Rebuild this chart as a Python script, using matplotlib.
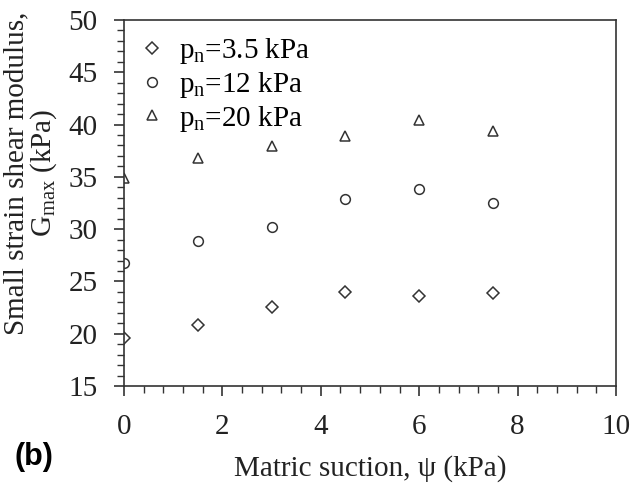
import matplotlib
matplotlib.use("Agg")
import matplotlib.pyplot as plt
from matplotlib.ticker import MultipleLocator

# matric suction (kPa)
suction = [0, 1.5, 3, 4.5, 6, 7.5]
# Gmax (kPa) for each net stress
g_35 = [19.6, 20.8, 22.6, 24.0, 23.65, 23.9]
g_12 = [26.8, 28.9, 30.2, 32.9, 33.85, 32.5]
g_20 = [34.9, 36.8, 37.95, 38.9, 40.4, 39.4]
labels = ["p$_\\mathrm{n}$=3.5 kPa", "p$_\\mathrm{n}$=12 kPa", "p$_\\mathrm{n}$=20 kPa"]

plt.rcParams["font.family"] = ["Liberation Serif", "DejaVu Serif"]
plt.rcParams["mathtext.fontset"] = "custom"
plt.rcParams["mathtext.rm"] = "Liberation Serif"

fs = 21
fig = plt.figure(figsize=(6.33, 4.87), dpi=100)
ax = fig.add_axes([124 / 633, 1 - 386 / 487, (616 - 124) / 633, (386 - 20) / 487])

col = "#333333"
ax.plot(suction, g_35, linestyle="none", marker="D", ms=6, mfc="white", mec=col, mew=1.1, label=labels[0])
ax.plot(suction, g_12, linestyle="none", marker="o", ms=7, mfc="white", mec=col, mew=1.1, label=labels[1])
ax.plot(suction, g_20, linestyle="none", marker="^", ms=7, mfc="white", mec=col, mew=1.1, label=labels[2])

ax.set_xlim(0, 10)
ax.set_ylim(15, 50)
ax.xaxis.set_major_locator(MultipleLocator(2))
ax.xaxis.set_minor_locator(MultipleLocator(0.4))
ax.yaxis.set_major_locator(MultipleLocator(5))
ax.yaxis.set_minor_locator(MultipleLocator(1))
ax.tick_params(which="both", direction="out", colors=col, labelcolor="#222222", labelsize=fs, top=False, right=False)
ax.tick_params(which="major", length=7, width=1.2)
ax.tick_params(which="minor", length=5, width=1.0)
ax.tick_params(axis="x", pad=13)
ax.tick_params(axis="y", pad=12)
for s in ax.spines.values():
    s.set_color(col)
    s.set_linewidth(1.2)

ax.set_xlabel("Matric suction, ψ (kPa)", fontsize=fs, color="#222222", labelpad=11)
ax.set_ylabel("Small strain shear modulus,\nG$_\\mathrm{max}$ (kPa)", fontsize=fs, color="#222222",
              linespacing=0.95)
ax.yaxis.set_label_coords(-65 / 492, (386 - 173) / 366)

ax.legend(loc="upper left", frameon=False, fontsize=fs, handletextpad=0.55, labelspacing=0.13,
          borderaxespad=0.15, handlelength=0.8)

fig.text(15 / 633, 1 - 457 / 487, "(b)", fontsize=22, fontweight="bold", family="Liberation Sans", va="center")

fig.savefig("out.png", dpi=100)
